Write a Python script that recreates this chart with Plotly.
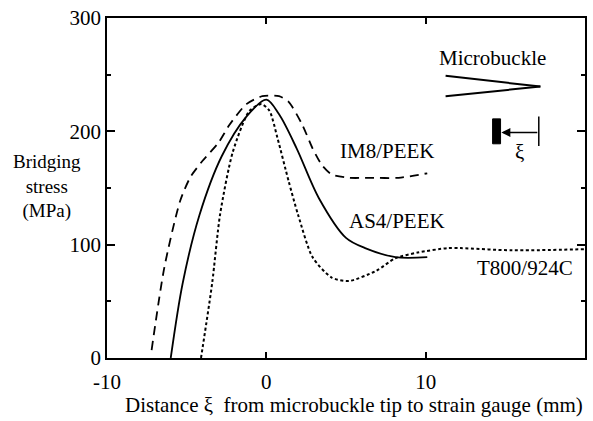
import plotly.graph_objects as go

# IM8/PEEK (dashed)
im8_x = [-7.2, -6.4, -5.4, -4.75, -4.0, -3.0, -2.3, -1.25, -0.25, 0.8, 1.4, 2.25, 2.9, 3.5, 4.1, 5.2, 6.5, 8.3, 10.1]
im8_y = [7, 80, 139, 160, 174, 190, 206, 224, 231, 231, 226, 206, 185, 170, 162, 159, 159, 159, 163]

# AS4/PEEK (solid)
as4_x = [-6.0, -5.25, -4.2, -2.8, -1.25, 0.0, 0.8, 1.9, 3.3, 5.0, 6.2, 8.1, 10.1]
as4_y = [0, 66, 126, 178, 213, 228, 215, 185, 141, 106, 97, 89, 89]

# T800/924C (dotted)
t800_x = [-4.1, -3.4, -2.9, -2.1, -1.06, -0.3, 0.2, 0.7, 1.4, 2.0, 2.9, 4.1, 5.2, 6.9, 8.1, 9.5, 11.4, 12.2, 15.4, 20.0]
t800_y = [0, 66, 127, 182, 218, 224, 218, 194, 156, 126, 89, 71, 68, 77, 88, 93, 97, 97, 95, 96]

x_ticks = [-10, 0, 10, 20]
y_ticks = [0, 100, 200, 300]

FONT = "Liberation Serif, Times New Roman, DejaVu Serif, serif"
FS = 21

fig = go.Figure()
fig.add_trace(go.Scatter(x=im8_x, y=im8_y, mode="lines",
                         line=dict(color="black", width=1.8, dash="9px,6px", shape="spline", smoothing=0.7),
                         name="IM8/PEEK"))
fig.add_trace(go.Scatter(x=as4_x, y=as4_y, mode="lines",
                         line=dict(color="black", width=1.8, shape="spline", smoothing=0.9),
                         name="AS4/PEEK"))
fig.add_trace(go.Scatter(x=t800_x, y=t800_y, mode="lines",
                         line=dict(color="black", width=2, dash="3px,2.5px", shape="spline", smoothing=0.7),
                         name="T800/924C"))

# Microbuckle icon
fig.add_shape(type="line", x0=11.25, y0=249, x1=17.2, y1=239.5, line=dict(color="black", width=2))
fig.add_shape(type="line", x0=11.25, y0=231, x1=17.2, y1=239.5, line=dict(color="black", width=2))
# strain gauge icon
fig.add_shape(type="rect", x0=14.2, y0=189, x1=14.7, y1=211, fillcolor="black", line=dict(color="black", width=1))
fig.add_shape(type="line", x0=17.1, y0=187, x1=17.1, y1=213, line=dict(color="black", width=1.5))
fig.add_annotation(x=14.75, y=199, ax=17.1, ay=199, axref="x", ayref="y", xref="x", yref="y",
                   showarrow=True, arrowhead=2, arrowsize=1.2, arrowwidth=1.5, arrowcolor="black", text="")

labels = [
    ("IM8/PEEK", 7.63, 183),
    ("AS4/PEEK", 8.19, 121),
    ("T800/924C", 16.25, 79),
    ("Microbuckle", 14.19, 265),
    ("ξ", 15.9, 182),
]
for txt, lx, ly in labels:
    fig.add_annotation(x=lx, y=ly, xref="x", yref="y", text=txt, showarrow=False,
                       font=dict(family=FONT, size=FS, color="black"), xanchor="center", yanchor="middle")

# y axis title
fig.add_annotation(x=-0.125, y=0.505, xref="paper", yref="paper", text="Bridging<br>stress<br>(MPa)",
                   showarrow=False, font=dict(family=FONT, size=19, color="black"),
                   xanchor="center", yanchor="middle", align="center")
fig.add_annotation(x=0.517, y=-0.138, xref="paper", yref="paper",
                   text="Distance ξ  from microbuckle tip to strain gauge (mm)",
                   showarrow=False, font=dict(family=FONT, size=FS, color="black"),
                   xanchor="center", yanchor="middle")

fig.update_layout(
    width=593, height=421,
    margin=dict(l=107, r=6, t=16, b=63),
    paper_bgcolor="white", plot_bgcolor="white",
    showlegend=False,
    font=dict(family=FONT, size=FS, color="black"),
)
fig.update_xaxes(range=[-10, 20], tickvals=x_ticks, ticktext=[str(v) for v in x_ticks],
                 ticks="inside", ticklen=6, tickwidth=1.5, tickcolor="black",
                 showline=True, linecolor="black", linewidth=1.8, mirror="ticks",
                 showgrid=False, zeroline=False, ticklabelstandoff=4,
                 tickfont=dict(family=FONT, size=FS, color="black"))
fig.update_yaxes(range=[0, 300], tickvals=y_ticks, ticktext=[str(v) for v in y_ticks],
                 ticks="inside", ticklen=8, tickwidth=1.5, tickcolor="black",
                 minor=dict(ticks="inside", ticklen=4, tickwidth=1.5, tickcolor="black", dtick=50, showgrid=False),
                 showline=True, linecolor="black", linewidth=1.8, mirror="ticks",
                 showgrid=False, zeroline=False,
                 tickfont=dict(family=FONT, size=FS, color="black"))

fig.write_html("out.html")
